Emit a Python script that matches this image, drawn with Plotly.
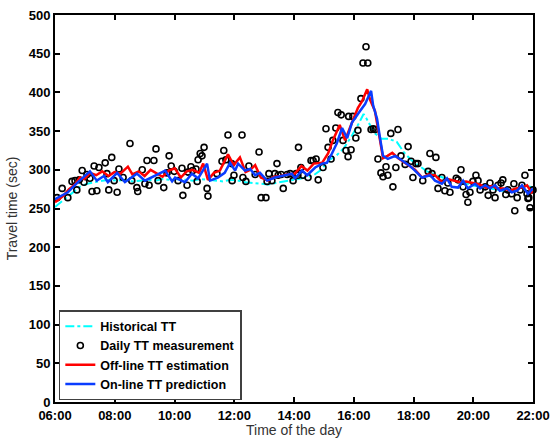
import plotly.graph_objects as go

# ---- data (hours of day, travel time in seconds) ----
hist_t = [6.0, 6.32, 6.57, 6.83, 7.08, 7.33, 7.58, 7.84, 8.09, 8.34, 8.59, 8.85, 9.10, 9.35, 9.60, 9.86,
          10.11, 10.36, 10.61, 10.87, 11.12, 11.37, 11.63, 11.88, 12.13, 12.38, 12.64, 12.89, 13.14, 13.39,
          13.65, 13.90, 14.15, 14.40, 14.66, 14.91, 15.16, 15.41, 15.67, 15.92, 16.17, 16.33, 16.43, 16.68,
          16.93, 17.18, 17.44, 17.69, 17.94, 18.19, 18.45, 18.70, 18.95, 19.20, 19.46, 19.71, 19.96, 20.21,
          20.47, 20.72, 20.97, 21.22, 21.48, 21.73, 21.98, 22.0]
hist_v = [252, 262, 270, 278, 282, 284, 286, 287, 286, 287, 285, 286, 287, 286, 288, 287,
          288, 287, 286, 288, 287, 286, 285, 287, 286, 284, 283, 282, 281, 283,
          285, 286, 288, 290, 293, 300, 312, 318, 328, 343, 360, 372, 366, 348,
          340, 340, 336, 322, 312, 305, 298, 294, 290, 287, 285, 283, 280, 278,
          276, 275, 273, 272, 275, 280, 278, 277]

meas_t = [6.07, 6.24, 6.43, 6.57, 6.67, 6.73, 6.81, 6.91, 6.97, 7.07, 7.17, 7.24, 7.31, 7.40, 7.47,
          7.68, 7.74, 7.80, 7.90, 7.98, 8.08, 8.14, 8.28, 8.51, 8.57, 8.74, 8.77, 8.92, 9.01, 9.08,
          9.15, 9.31, 9.38, 9.45, 9.64, 9.75, 9.82, 9.89, 9.99, 10.12, 10.25, 10.28, 10.42, 10.45,
          10.55, 10.61, 10.72, 10.76, 10.79, 10.86, 10.92, 10.99, 11.09, 11.12, 11.42, 11.59, 11.65,
          11.72, 11.79, 11.91, 11.93, 11.99, 12.26, 12.29, 12.39, 12.49, 12.70, 12.83, 12.90, 13.06,
          13.10, 13.16, 13.26, 13.36, 13.43, 13.47, 13.57, 13.64, 13.77, 13.87, 13.97, 14.07, 14.13,
          14.15, 14.23, 14.30, 14.47, 14.57, 14.64, 14.74, 14.81, 14.97, 15.07, 15.14, 15.24, 15.30,
          15.40, 15.47, 15.58, 15.64, 15.74, 15.81, 15.83, 15.91, 15.97, 16.07, 16.14, 16.24, 16.31,
          16.41, 16.47, 16.58, 16.65, 16.71, 16.81, 16.91, 16.98, 17.08, 17.14, 17.24, 17.31, 17.41,
          17.48, 17.58, 17.72, 17.82, 17.92, 17.98, 18.08, 18.15, 18.31, 18.49, 18.55, 18.62, 18.75,
          18.82, 18.95, 19.05, 19.15, 19.22, 19.43, 19.49, 19.59, 19.66, 19.76, 19.82, 19.89, 19.99,
          20.09, 20.16, 20.23, 20.40, 20.50, 20.56, 20.66, 20.73, 20.83, 20.93, 20.99, 21.09, 21.16,
          21.29, 21.36, 21.39, 21.47, 21.57, 21.63, 21.73, 21.80, 21.83, 21.86, 21.90, 22.00]
meas_v = [264, 276, 264, 285, 286, 274, 287, 299, 284, 294, 289, 272, 305, 273, 303,
          309, 295, 274, 316, 286, 271, 301, 290, 334, 286, 277, 272, 300, 282, 312,
          280, 312, 327, 286, 277, 296, 318, 305, 298, 286, 302, 267, 280, 297,
          304, 299, 301, 285, 313, 321, 318, 329, 276, 266, 295, 311, 325,
          313, 345, 308, 286, 293, 345, 290, 285, 305, 294, 323, 264, 264,
          285, 295, 286, 295, 308, 293, 294, 276, 294, 295, 286, 295, 293,
          329, 303, 293, 290, 312, 312, 314, 287, 303, 353, 329, 314, 338,
          354, 374, 371, 338, 325, 317, 369, 326, 369, 341, 351, 392, 438,
          459, 438, 352, 353, 352, 314, 296, 291, 304, 293, 347, 278, 303,
          352, 318, 307, 330, 311, 290, 308, 308, 286, 298, 321, 295, 316,
          276, 290, 273, 283, 271, 289, 287, 300, 278, 268, 258, 271, 285,
          293, 286, 274, 278, 267, 283, 274, 264, 280, 283, 287, 268, 274,
          269, 282, 247, 264, 274, 280, 293, 269, 263, 264, 251, 274]

off_t = [6.0, 6.27, 6.47, 6.67, 6.83, 6.98, 7.18, 7.38, 7.58, 7.79, 7.99, 8.19, 8.44, 8.59, 8.80, 9.00,
         9.20, 9.40, 9.60, 9.81, 10.01, 10.21, 10.41, 10.61, 10.82, 10.96, 11.12, 11.32, 11.52, 11.79,
         11.98, 12.19, 12.38, 12.54, 12.70, 12.89, 13.14, 13.34, 13.55, 13.75, 14.03, 14.25, 14.45,
         14.66, 14.94, 15.14, 15.30, 15.53, 15.71, 15.87, 15.97, 16.14, 16.27, 16.45, 16.55, 16.71,
         16.88, 16.98, 17.13, 17.29, 17.49, 17.72, 17.89, 18.05, 18.29, 18.50, 18.72, 18.95, 19.15,
         19.35, 19.56, 19.76, 19.96, 20.21, 20.42, 20.62, 20.82, 21.02, 21.23, 21.43, 21.63, 21.80,
         21.95, 22.0]
off_v = [258, 266, 275, 281, 290, 288, 296, 293, 298, 292, 297, 295, 304, 294, 298, 292,
         300, 295, 291, 299, 302, 290, 298, 300, 296, 308, 287, 296, 299, 320,
         306, 316, 297, 300, 306, 290, 286, 291, 292, 294, 295, 305, 299,
         308, 309, 321, 338, 358, 338, 354, 363, 380, 388, 404, 390, 376,
         338, 315, 318, 322, 315, 309, 305, 300, 290, 294, 293, 284, 288,
         286, 284, 285, 283, 281, 277, 279, 276, 276, 273, 276, 277, 280,
         271, 273]

on_t = [6.0, 6.43, 6.77, 7.17, 7.40, 7.64, 7.77, 8.08, 8.34, 8.74, 9.01, 9.35, 9.69, 9.92, 10.02,
        10.35, 10.58, 10.79, 11.09, 11.19, 11.45, 11.68, 11.86, 12.03, 12.13, 12.36, 12.53, 12.70,
        12.86, 13.10, 13.36, 13.70, 13.93, 14.03, 14.27, 14.44, 14.71, 14.94, 15.10, 15.27, 15.43,
        15.61, 15.78, 15.94, 16.04, 16.21, 16.38, 16.48, 16.58, 16.65, 16.78, 16.88, 16.98, 17.14,
        17.39, 17.62, 17.88, 18.05, 18.28, 18.56, 18.72, 18.95, 19.12, 19.28, 19.49, 19.66, 19.82,
        20.06, 20.23, 20.40, 20.56, 20.73, 20.89, 21.13, 21.29, 21.47, 21.63, 21.83, 22.0]
on_v = [262, 271, 284, 298, 286, 292, 284, 296, 284, 295, 286, 293, 299, 285, 290,
        284, 295, 289, 308, 286, 290, 296, 309, 299, 308, 299, 301, 293,
        296, 286, 290, 293, 295, 289, 299, 293, 303, 308, 309, 321, 334,
        354, 341, 361, 366, 376, 385, 393, 402, 383, 366, 341, 318, 314,
        318, 312, 305, 299, 290, 293, 286, 282, 289, 278, 277, 286, 276,
        282, 276, 280, 276, 280, 273, 276, 271, 273, 280, 269, 276]

x_tickvals = [6, 8, 10, 12, 14, 16, 18, 20, 22]
x_ticktext = ["06:00", "08:00", "10:00", "12:00", "14:00", "16:00", "18:00", "20:00", "22:00"]
y_tickvals = [0, 50, 100, 150, 200, 250, 300, 350, 400, 450, 500]

FONT = "Liberation Sans, Arial"

fig = go.Figure()
fig.add_trace(go.Scatter(x=hist_t, y=hist_v, mode="lines", name="Historical TT",
                         line=dict(color="#00FFFF", width=2, dash="dashdot")))
fig.add_trace(go.Scatter(x=meas_t, y=meas_v, mode="markers", name="Daily TT measurement",
                         cliponaxis=False,
                         marker=dict(symbol="circle-open", color="black", size=6,
                                     line=dict(width=1.6, color="black"))))
fig.add_trace(go.Scatter(x=off_t, y=off_v, mode="lines", name="Off-line TT estimation",
                         line=dict(color="#FF0000", width=2.5)))
fig.add_trace(go.Scatter(x=on_t, y=on_v, mode="lines", name="On-line TT prediction",
                         line=dict(color="#0A3CFF", width=2.5)))

axis_common = dict(showline=True, linecolor="black", linewidth=2, mirror="ticks",
                   ticks="inside", ticklen=5, tickwidth=1.5, tickcolor="black",
                   showgrid=False, zeroline=False, automargin=False,
                   tickfont=dict(family=FONT, size=13, color="black", weight="bold"))

fig.update_layout(
    width=551, height=438,
    margin=dict(l=55, r=18, t=15, b=36),
    paper_bgcolor="white", plot_bgcolor="white",
    showlegend=True,
    legend=dict(x=0.008, y=0.005, xanchor="left", yanchor="bottom",
                bgcolor="white", bordercolor="#404040", borderwidth=1.5,
                font=dict(family=FONT, size=12.5, color="black", weight="bold"),
                tracegroupgap=0, itemwidth=30),
    xaxis=dict(range=[6, 22], tickvals=x_tickvals, ticktext=x_ticktext,
               title=dict(text="Time of the day", standoff=6,
                          font=dict(family=FONT, size=14, color="#333333")),
               **axis_common),
    yaxis=dict(range=[0, 500], tickvals=y_tickvals,
               title=dict(text="Travel time (sec)", standoff=8,
                          font=dict(family=FONT, size=14, color="#333333")),
               **axis_common),
)

fig.write_html("out.html")
